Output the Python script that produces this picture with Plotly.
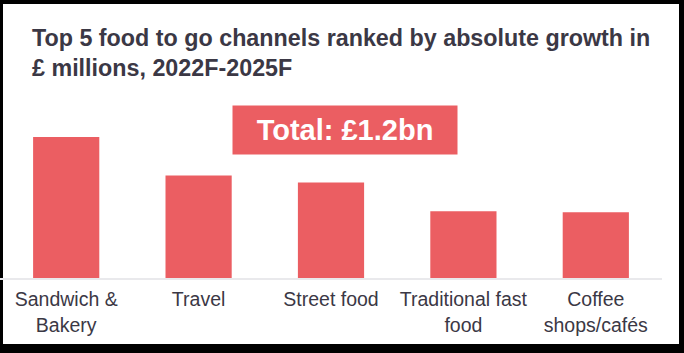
import plotly.graph_objects as go

categories = ["Sandwich &<br>Bakery", "Travel", "Street food", "Traditional fast<br>food", "Coffee<br>shops/cafés"]
growth_values = [300, 218, 203, 142, 140]
title_text = "Top 5 food to go channels ranked by absolute growth in<br>£ millions, 2022F-2025F"
total_label = "Total: £1.2bn"

W, H = 684, 353
ML, MR, MT, MB = 0, 22, 100, 75
PW = W - ML - MR
PH = H - MT - MB

def px_x(px):
    return (px - ML) / PW

def px_y(py):
    return (H - MB - py) / PH

bar_color = "#EB5E62"
text_color = "#3B3845"
font_family = "Liberation Sans, Arial, sans-serif"

fig = go.Figure()
fig.add_trace(go.Bar(
    x=list(range(len(categories))),
    y=growth_values,
    marker=dict(color=bar_color, line=dict(width=0)),
    hoverinfo="skip",
))

ymax = growth_values[0] * PH / 141.0

fig.update_layout(
    width=W, height=H,
    margin=dict(l=ML, r=MR, t=MT, b=MB),
    paper_bgcolor="black",
    plot_bgcolor="rgba(0,0,0,0)",
    bargap=0.5,
    showlegend=False,
    font=dict(family=font_family, color=text_color),
    title=dict(
        text=title_text,
        x=32 / W, xanchor="left", xref="container",
        y=1 - 46 / H, yanchor="top", yref="container",
        font=dict(size=23.3, color=text_color, family=font_family, weight="bold"),
    ),
    xaxis=dict(
        tickmode="array",
        tickvals=list(range(len(categories))),
        ticktext=categories,
        range=[-0.5, len(categories) - 0.5],
        showgrid=False, zeroline=False,
        showline=True, linecolor="#E9E9EC", linewidth=2,
        ticks="",
        ticklabelstandoff=3,
        tickfont=dict(size=19.5, color=text_color, family=font_family),
        fixedrange=True,
    ),
    yaxis=dict(
        range=[0, ymax],
        visible=False,
        showgrid=False, zeroline=False,
        fixedrange=True,
    ),
    shapes=[
        dict(type="rect", xref="paper", yref="paper",
             x0=px_x(3), x1=px_x(679), y0=px_y(344), y1=px_y(4),
             fillcolor="white", line=dict(width=0), layer="below"),
    ],
    annotations=[
        dict(
            text=total_label,
            xref="paper", yref="paper",
            x=px_x(345.3), y=px_y(130),
            xanchor="center", yanchor="middle",
            showarrow=False,
            width=224, height=48,
            borderpad=0,
            bgcolor=bar_color,
            font=dict(size=29, color="white", family=font_family, weight="bold"),
        )
    ],
)

fig.write_html("out.html")
